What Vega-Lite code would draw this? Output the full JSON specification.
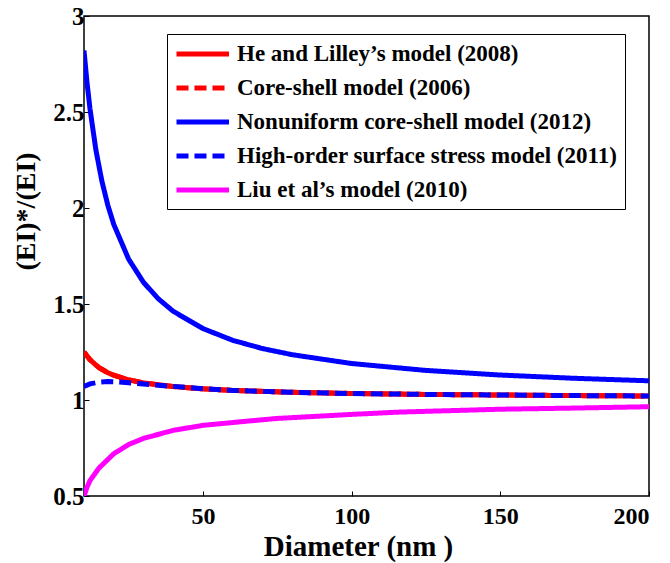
{
  "$schema": "https://vega.github.io/schema/vega-lite/v6.json",
  "width": 565,
  "height": 480,
  "autosize": {"type": "none"},
  "padding": {"left": 84, "top": 16, "right": 21, "bottom": 67},
  "background": "white",
  "config": {
    "view": {"stroke": "black", "strokeWidth": 1.5},
    "font": "Liberation Serif",
    "axis": {"labelFont": "Liberation Serif", "titleFont": "Liberation Serif"},
    "legend": {"labelFont": "Liberation Serif", "titleFont": "Liberation Serif"}
  },
  "data": {"values": [
    {"model": "He and Lilley’s model (2008)", "D": 10, "v": 1.25},
    {"model": "He and Lilley’s model (2008)", "D": 12, "v": 1.21},
    {"model": "He and Lilley’s model (2008)", "D": 15, "v": 1.169},
    {"model": "He and Lilley’s model (2008)", "D": 18, "v": 1.142},
    {"model": "He and Lilley’s model (2008)", "D": 20, "v": 1.129},
    {"model": "He and Lilley’s model (2008)", "D": 25, "v": 1.105},
    {"model": "He and Lilley’s model (2008)", "D": 30, "v": 1.089},
    {"model": "He and Lilley’s model (2008)", "D": 40, "v": 1.07},
    {"model": "He and Lilley’s model (2008)", "D": 50, "v": 1.058},
    {"model": "He and Lilley’s model (2008)", "D": 60, "v": 1.05},
    {"model": "He and Lilley’s model (2008)", "D": 80, "v": 1.04},
    {"model": "He and Lilley’s model (2008)", "D": 100, "v": 1.034},
    {"model": "He and Lilley’s model (2008)", "D": 125, "v": 1.029},
    {"model": "He and Lilley’s model (2008)", "D": 150, "v": 1.026},
    {"model": "He and Lilley’s model (2008)", "D": 175, "v": 1.023},
    {"model": "He and Lilley’s model (2008)", "D": 200, "v": 1.021},
    {"model": "Core-shell model (2006)", "D": 10, "v": 1.25},
    {"model": "Core-shell model (2006)", "D": 12, "v": 1.21},
    {"model": "Core-shell model (2006)", "D": 15, "v": 1.169},
    {"model": "Core-shell model (2006)", "D": 18, "v": 1.142},
    {"model": "Core-shell model (2006)", "D": 20, "v": 1.129},
    {"model": "Core-shell model (2006)", "D": 25, "v": 1.105},
    {"model": "Core-shell model (2006)", "D": 30, "v": 1.089},
    {"model": "Core-shell model (2006)", "D": 40, "v": 1.07},
    {"model": "Core-shell model (2006)", "D": 50, "v": 1.058},
    {"model": "Core-shell model (2006)", "D": 60, "v": 1.05},
    {"model": "Core-shell model (2006)", "D": 80, "v": 1.04},
    {"model": "Core-shell model (2006)", "D": 100, "v": 1.034},
    {"model": "Core-shell model (2006)", "D": 125, "v": 1.029},
    {"model": "Core-shell model (2006)", "D": 150, "v": 1.026},
    {"model": "Core-shell model (2006)", "D": 175, "v": 1.023},
    {"model": "Core-shell model (2006)", "D": 200, "v": 1.021},
    {"model": "Nonuniform core-shell model (2012)", "D": 10, "v": 2.82},
    {"model": "Nonuniform core-shell model (2012)", "D": 11, "v": 2.655},
    {"model": "Nonuniform core-shell model (2012)", "D": 12, "v": 2.518},
    {"model": "Nonuniform core-shell model (2012)", "D": 14, "v": 2.302},
    {"model": "Nonuniform core-shell model (2012)", "D": 16, "v": 2.141},
    {"model": "Nonuniform core-shell model (2012)", "D": 18, "v": 2.015},
    {"model": "Nonuniform core-shell model (2012)", "D": 20, "v": 1.915},
    {"model": "Nonuniform core-shell model (2012)", "D": 25, "v": 1.734},
    {"model": "Nonuniform core-shell model (2012)", "D": 30, "v": 1.613},
    {"model": "Nonuniform core-shell model (2012)", "D": 35, "v": 1.527},
    {"model": "Nonuniform core-shell model (2012)", "D": 40, "v": 1.462},
    {"model": "Nonuniform core-shell model (2012)", "D": 50, "v": 1.372},
    {"model": "Nonuniform core-shell model (2012)", "D": 60, "v": 1.311},
    {"model": "Nonuniform core-shell model (2012)", "D": 70, "v": 1.268},
    {"model": "Nonuniform core-shell model (2012)", "D": 80, "v": 1.236},
    {"model": "Nonuniform core-shell model (2012)", "D": 100, "v": 1.19},
    {"model": "Nonuniform core-shell model (2012)", "D": 125, "v": 1.154},
    {"model": "Nonuniform core-shell model (2012)", "D": 150, "v": 1.13},
    {"model": "Nonuniform core-shell model (2012)", "D": 175, "v": 1.113},
    {"model": "Nonuniform core-shell model (2012)", "D": 200, "v": 1.1},
    {"model": "High-order surface stress model (2011)", "D": 10, "v": 1.07},
    {"model": "High-order surface stress model (2011)", "D": 12, "v": 1.084},
    {"model": "High-order surface stress model (2011)", "D": 15, "v": 1.093},
    {"model": "High-order surface stress model (2011)", "D": 18, "v": 1.096},
    {"model": "High-order surface stress model (2011)", "D": 20, "v": 1.095},
    {"model": "High-order surface stress model (2011)", "D": 25, "v": 1.09},
    {"model": "High-order surface stress model (2011)", "D": 30, "v": 1.083},
    {"model": "High-order surface stress model (2011)", "D": 40, "v": 1.071},
    {"model": "High-order surface stress model (2011)", "D": 50, "v": 1.059},
    {"model": "High-order surface stress model (2011)", "D": 60, "v": 1.05},
    {"model": "High-order surface stress model (2011)", "D": 80, "v": 1.04},
    {"model": "High-order surface stress model (2011)", "D": 100, "v": 1.034},
    {"model": "High-order surface stress model (2011)", "D": 125, "v": 1.029},
    {"model": "High-order surface stress model (2011)", "D": 150, "v": 1.026},
    {"model": "High-order surface stress model (2011)", "D": 175, "v": 1.023},
    {"model": "High-order surface stress model (2011)", "D": 200, "v": 1.021},
    {"model": "Liu et al’s model (2010)", "D": 10, "v": 0.5},
    {"model": "Liu et al’s model (2010)", "D": 11, "v": 0.545},
    {"model": "Liu et al’s model (2010)", "D": 12, "v": 0.58},
    {"model": "Liu et al’s model (2010)", "D": 15, "v": 0.645},
    {"model": "Liu et al’s model (2010)", "D": 20, "v": 0.72},
    {"model": "Liu et al’s model (2010)", "D": 25, "v": 0.768},
    {"model": "Liu et al’s model (2010)", "D": 30, "v": 0.8},
    {"model": "Liu et al’s model (2010)", "D": 40, "v": 0.842},
    {"model": "Liu et al’s model (2010)", "D": 50, "v": 0.868},
    {"model": "Liu et al’s model (2010)", "D": 65, "v": 0.89},
    {"model": "Liu et al’s model (2010)", "D": 75, "v": 0.904},
    {"model": "Liu et al’s model (2010)", "D": 100, "v": 0.925},
    {"model": "Liu et al’s model (2010)", "D": 116, "v": 0.937},
    {"model": "Liu et al’s model (2010)", "D": 150, "v": 0.952},
    {"model": "Liu et al’s model (2010)", "D": 175, "v": 0.958},
    {"model": "Liu et al’s model (2010)", "D": 200, "v": 0.965}
  ]},
  "mark": {"type": "line", "strokeWidth": 5, "clip": true},
  "encoding": {
    "x": {
      "field": "D", "type": "quantitative",
      "scale": {"domain": [10, 200], "nice": false, "zero": false},
      "axis": {
        "title": "Diameter (nm )",
        "values": [50, 100, 150, 200],
        "grid": false, "domain": false,
        "tickSize": -5, "tickColor": "black", "tickWidth": 1,
        "labelFont": "Liberation Serif", "labelFontWeight": "bold", "labelFontSize": 24, "labelColor": "black",
        "labelPadding": 13,
        "titleFont": "Liberation Serif", "titleFontWeight": "bold", "titleFontSize": 29, "titleColor": "black",
        "titleBaseline": "alphabetic", "titleX": 274, "titleY": 59
      }
    },
    "y": {
      "field": "v", "type": "quantitative",
      "scale": {"domain": [0.5, 3], "nice": false, "zero": false},
      "axis": {
        "title": "(EI)*/(EI)",
        "values": [0.5, 1, 1.5, 2, 2.5, 3],
        "format": "~g",
        "grid": false, "domain": false,
        "tickSize": -5, "tickColor": "black", "tickWidth": 1,
        "labelFont": "Liberation Serif", "labelFontWeight": "bold", "labelFontSize": 25, "labelColor": "black",
        "labelPadding": 5,
        "titleFont": "Liberation Serif", "titleFontWeight": "bold", "titleFontSize": 28, "titleColor": "black",
        "titleX": -44, "titleY": 195
      }
    },
    "color": {
      "field": "model", "type": "nominal",
      "scale": {
        "domain": ["He and Lilley’s model (2008)", "Core-shell model (2006)", "Nonuniform core-shell model (2012)", "High-order surface stress model (2011)", "Liu et al’s model (2010)"],
        "range": ["#ff0000", "#ff0000", "#0000ff", "#0000ff", "#ff00ff"]
      },
      "legend": {
        "title": null,
        "orient": "none", "legendX": 83, "legendY": 18,
        "symbolType": "M-1,0H4", "symbolSize": 441, "symbolStrokeWidth": 5,
        "labelFont": "Liberation Serif", "labelFontWeight": "bold", "labelFontSize": 23, "labelColor": "black",
        "labelOffset": 37, "rowPadding": 9,
        "padding": 7, "strokeColor": "black", "fillColor": "white",
        "labelLimit": 500
      }
    },
    "strokeDash": {
      "field": "model", "type": "nominal",
      "scale": {
        "domain": ["He and Lilley’s model (2008)", "Core-shell model (2006)", "Nonuniform core-shell model (2012)", "High-order surface stress model (2011)", "Liu et al’s model (2010)"],
        "range": [[1, 0], [12, 6], [1, 0], [12, 6], [1, 0]]
      },
      "legend": null
    }
  }
}
